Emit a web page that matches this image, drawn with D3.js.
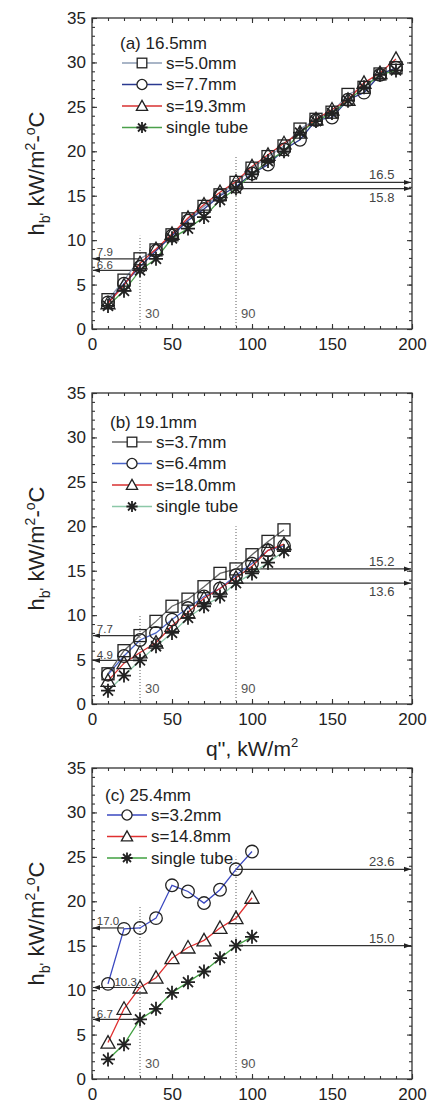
<!DOCTYPE html>
<html>
<head>
<meta charset="utf-8">
<script src="https://cdn.jsdelivr.net/npm/d3@7"></script>
<style>
  body { margin: 0; background: #fff; }
  svg { font-family: "Liberation Sans", Arial, sans-serif; }
  .axis path, .axis line { stroke: #333; stroke-width: 1.1; }
  .axis text { font-size: 17px; fill: #222; }
</style>
</head>
<body>
<svg width="427" height="1104"></svg>
<script>
// ---- data ----
// panel (a) tube 16.5mm
const qA = [10, 20, 30, 40, 50, 60, 70, 80, 90, 100, 110, 120, 130, 140, 150, 160, 170, 180, 190];
const hA_s50 = [3.3, 5.5, 7.9, 8.9, 10.6, 12.4, 13.8, 15.1, 16.5, 18.1, 19.4, 20.6, 22.5, 23.6, 24.4, 26.4, 27.2, 28.7, 29.4];
const hA_s77 = [3.0, 5.1, 7.0, 8.8, 10.5, 12.2, 13.5, 15.0, 16.0, 17.5, 18.5, 20.2, 21.3, 23.5, 23.8, 25.8, 26.6, 28.6, 29.4];
const hA_s193 = [2.9, 4.9, 7.4, 9.0, 10.7, 12.5, 14.0, 15.4, 16.6, 18.3, 19.6, 20.9, 22.1, 23.6, 24.7, 25.8, 27.7, 28.8, 30.4];
const hA_single = [2.6, 4.3, 6.6, 7.9, 10.2, 11.3, 12.6, 14.5, 15.8, 17.4, 18.9, 20.0, 22.1, 23.4, 24.3, 25.7, 27.2, 28.6, 29.1];

// panel (b) tube 19.1mm
const qB = [10, 20, 30, 40, 50, 60, 70, 80, 90, 100, 110, 120];
const hB_s37 = [3.4, 6.0, 7.7, 9.3, 11.0, 11.8, 13.2, 14.7, 15.2, 16.8, 18.3, 19.6];
const hB_s64 = [3.3, 5.4, 7.2, 8.0, 9.5, 10.8, 12.1, 13.0, 14.5, 15.8, 17.3, 17.8];
const hB_s180 = [2.6, 4.6, 5.8, 6.9, 8.8, 10.3, 11.9, 13.0, 14.2, 15.5, 17.3, 18.0];
const hB_single = [1.5, 3.2, 4.9, 6.5, 8.0, 9.7, 11.0, 12.1, 13.6, 14.7, 15.9, 17.2];

// panel (c) tube 25.4mm
const qC = [10, 20, 30, 40, 50, 60, 70, 80, 90, 100];
const hC_s32 = [10.7, 16.9, 17.0, 18.1, 21.8, 21.1, 19.8, 21.3, 23.6, 25.6];
const hC_s148 = [4.1, 7.9, 10.3, 11.4, 13.6, 14.8, 15.6, 17.0, 18.1, 20.4];
const hC_single = [2.2, 3.9, 6.7, 7.9, 9.7, 10.9, 12.1, 13.6, 15.0, 16.0];

// marked reference values (horizontal arrows) and q markers (dotted verticals)
const refLeftA = [7.9, 6.6], refRightA = [16.5, 15.8];
const refLeftB = [7.7, 4.9], refRightB = [15.2, 13.6];
const refLeftC = [17.0, 10.3, 6.7], refRightC = [23.6, 15.0];
const qMarks = [30, 90];
const qMarkTopA = [10.5, 19.5], qMarkTopB = [10, 20], qMarkTopC = [19.5, 25];

const xTicks = [0, 50, 100, 150, 200];
const xMinor = [0, 10, 20, 30, 40, 50, 60, 70, 80, 90, 100, 110, 120, 130, 140, 150, 160, 170, 180, 190, 200];
const yTicks = [0, 5, 10, 15, 20, 25, 30, 35];
const yMinor = [];
for (let v = 0; v <= 35; v++) yMinor.push(v);

// ---- layout ----
const svg = d3.select("svg");
const left = 92, right = 412, ph = 311;

const panels = [
  { top: 18, title: "(a) 16.5mm", q: qA, leftRefs: refLeftA, rightRefs: refRightA, marksTop: qMarkTopA,
    legX: 122, legY: 25, belowRight: [15.8], leftEnd: {},
    series: [
      { name: "s=5.0mm", h: hA_s50, sym: "square", color: "#8c9cb4" },
      { name: "s=7.7mm", h: hA_s77, sym: "circle", color: "#2a3990" },
      { name: "s=19.3mm", h: hA_s193, sym: "triangle", color: "#d93030" },
      { name: "single tube", h: hA_single, sym: "star", color: "#4aa04a" }
    ] },
  { top: 393, title: "(b) 19.1mm", q: qB, leftRefs: refLeftB, rightRefs: refRightB, marksTop: qMarkTopB,
    legX: 112, legY: 29, belowRight: [13.6], leftEnd: {},
    series: [
      { name: "s=3.7mm", h: hB_s37, sym: "square", color: "#666" },
      { name: "s=6.4mm", h: hB_s64, sym: "circle", color: "#4a64c8" },
      { name: "s=18.0mm", h: hB_s180, sym: "triangle", color: "#d93030" },
      { name: "single tube", h: hB_single, sym: "star", color: "#8cc8a8" }
    ] },
  { top: 768, title: "(c) 25.4mm", q: qC, leftRefs: refLeftC, rightRefs: refRightC, marksTop: qMarkTopC,
    legX: 107, legY: 27, belowRight: [], leftEnd: { "17": 20 }, shiftLabel: { "10.3": 11 },
    series: [
      { name: "s=3.2mm", h: hC_s32, sym: "circle", color: "#3a48c0" },
      { name: "s=14.8mm", h: hC_s148, sym: "triangle", color: "#e03030" },
      { name: "single tube", h: hC_single, sym: "star", color: "#40a040" }
    ] }
];

const defs = svg.append("defs");
["L", "R"].forEach(k => {
  defs.append("marker").attr("id", "arr" + k)
    .attr("viewBox", "0 0 10 10").attr("refX", 10).attr("refY", 5)
    .attr("markerWidth", 6).attr("markerHeight", 6).attr("orient", "auto")
    .append("path").attr("d", "M0,1.5L10,5L0,8.5Z").attr("fill", "#222");
});

function drawSymbol(sel, sym, k = 1) {
  if (sym === "square") {
    sel.append("rect").attr("x", -6 * k).attr("y", -6 * k).attr("width", 12 * k).attr("height", 12 * k);
  } else if (sym === "circle") {
    sel.append("circle").attr("r", 6.3 * k);
  } else if (sym === "triangle") {
    sel.append("path").attr("d", `M0,${-7 * k}L${7 * k},${5.5 * k}L${-7 * k},${5.5 * k}Z`);
  } else {
    const a = 7 * k, b = 5 * k;
    sel.append("path").attr("d", `M${-a},0H${a}M0,${-a}V${a}M${-b},${-b}L${b},${b}M${-b},${b}L${b},${-b}`)
      .attr("stroke-width", 1.8);
  }
}

const x = d3.scaleLinear().domain([0, 200]).range([left, right]);

panels.forEach(p => {
  const y = d3.scaleLinear().domain([0, 35]).range([p.top + ph, p.top]);
  const g = svg.append("g");

  // axes: major + minor ticks inward on all four sides
  g.append("g").attr("class", "axis").attr("transform", `translate(0,${p.top + ph})`)
    .call(d3.axisBottom(x).tickValues(xTicks).tickSizeInner(-5).tickSizeOuter(0).tickPadding(9));
  g.append("g").attr("class", "axis").attr("transform", `translate(0,${p.top + ph})`)
    .call(d3.axisBottom(x).tickValues(xMinor).tickSize(-3).tickFormat(""));
  g.append("g").attr("class", "axis").attr("transform", `translate(0,${p.top})`)
    .call(d3.axisTop(x).tickValues(xTicks).tickSizeInner(-5).tickSizeOuter(0).tickFormat(""));
  g.append("g").attr("class", "axis").attr("transform", `translate(0,${p.top})`)
    .call(d3.axisTop(x).tickValues(xMinor).tickSize(-3).tickFormat(""));
  g.append("g").attr("class", "axis").attr("transform", `translate(${left},0)`)
    .call(d3.axisLeft(y).tickValues(yTicks).tickSizeInner(-5).tickSizeOuter(0).tickPadding(6));
  g.append("g").attr("class", "axis").attr("transform", `translate(${left},0)`)
    .call(d3.axisLeft(y).tickValues(yMinor).tickSize(-3).tickFormat(""));
  g.append("g").attr("class", "axis").attr("transform", `translate(${right},0)`)
    .call(d3.axisRight(y).tickValues(yTicks).tickSizeInner(-5).tickSizeOuter(0).tickFormat(""));
  g.append("g").attr("class", "axis").attr("transform", `translate(${right},0)`)
    .call(d3.axisRight(y).tickValues(yMinor).tickSize(-3).tickFormat(""));
  g.selectAll(".axis .domain").remove();
  g.append("rect").attr("x", left).attr("y", p.top).attr("width", right - left).attr("height", ph)
    .attr("fill", "none").attr("stroke", "#333").attr("stroke-width", 1.3);

  // dotted q markers
  qMarks.forEach((q, i) => {
    g.append("line").attr("x1", x(q)).attr("x2", x(q)).attr("y1", y(0)).attr("y2", y(p.marksTop[i]))
      .attr("stroke", "#777").attr("stroke-width", 1.2).attr("stroke-dasharray", "1,2");
    g.append("text").attr("x", x(q) + 5).attr("y", y(1.8)).attr("dy", "0.35em")
      .attr("font-size", 13).attr("fill", "#555").text(q);
  });

  // reference arrows
  p.leftRefs.forEach((v, i) => {
    const end = p.leftEnd[String(v)] !== undefined ? p.leftEnd[String(v)] : 30;
    g.append("line").attr("x1", x(end)).attr("x2", x(0) + 1).attr("y1", y(v)).attr("y2", y(v))
      .attr("stroke", "#333").attr("stroke-width", 1.2).attr("marker-end", "url(#arrL)");
    const sh = (p.shiftLabel && p.shiftLabel[v.toFixed(1)]) || 0;
    g.append("text").attr("x", x(3 + sh)).attr("y", y(v) - (i === 0 ? 3 : 1.5))
      .attr("font-size", 11.5).attr("fill", "#444").text(v.toFixed(1));
  });
  p.rightRefs.forEach(v => {
    g.append("line").attr("x1", x(90)).attr("x2", x(200) - 1).attr("y1", y(v)).attr("y2", y(v))
      .attr("stroke", "#333").attr("stroke-width", 1.2).attr("marker-end", "url(#arrR)");
    const below = p.belowRight.includes(v);
    g.append("text").attr("x", x(189)).attr("y", below ? y(v) + 13 : y(v) - 3)
      .attr("text-anchor", "end").attr("font-size", 13).attr("fill", "#444").text(v.toFixed(1));
  });

  // series lines then markers
  const line = d3.line().x(d => x(d[0])).y(d => y(d[1]));
  p.series.forEach(s => {
    const pts = p.q.map((q, i) => [q, s.h[i]]);
    g.append("path").datum(pts).attr("d", line)
      .attr("fill", "none").attr("stroke", s.color).attr("stroke-width", 1.3);
  });
  p.series.forEach(s => {
    const pts = p.q.map((q, i) => [q, s.h[i]]);
    const m = g.append("g").selectAll("g").data(pts).enter().append("g")
      .attr("transform", d => `translate(${x(d[0])},${y(d[1])})`)
      .attr("fill", "none").attr("stroke", "#222").attr("stroke-width", 1.3);
    m.each(function () { drawSymbol(d3.select(this), s.sym); });
  });

  // legend
  const lg = g.append("g").attr("transform", `translate(${p.legX},${p.top + p.legY})`);
  lg.append("text").attr("x", -2).attr("dy", "0.35em").attr("font-size", 17).attr("fill", "#222").text(p.title);
  p.series.forEach((s, i) => {
    const row = lg.append("g").attr("transform", `translate(0,${20 + i * 21.5})`);
    row.append("line").attr("x1", 0).attr("x2", 40).attr("stroke", s.color).attr("stroke-width", 1.4);
    const mk = row.append("g").attr("transform", "translate(20,0)")
      .attr("fill", "#fff").attr("stroke", "#222").attr("stroke-width", 1.3);
    drawSymbol(mk, s.sym, 0.8);
    row.append("text").attr("x", 44).attr("dy", "0.35em").attr("font-size", 17).attr("fill", "#222").text(s.name);
  });

  // y-axis title
  const yt = g.append("text").attr("transform", `translate(44,${p.top + ph / 2}) rotate(-90)`)
    .attr("text-anchor", "middle").attr("font-size", 22).attr("fill", "#222");
  yt.append("tspan").text("h");
  yt.append("tspan").attr("dy", 6).attr("font-size", 14).text("b'");
  yt.append("tspan").attr("dy", -6).text("  kW/m");
  yt.append("tspan").attr("dy", -9).attr("font-size", 14).text("2");
  yt.append("tspan").attr("dy", 9).text("-");
  yt.append("tspan").attr("dy", -9).attr("font-size", 14).text("o");
  yt.append("tspan").attr("dy", 9).text("C");
});

// shared x-axis title between panels (b) and (c)
const xt = svg.append("text").attr("x", x(100)).attr("y", 756)
  .attr("text-anchor", "middle").attr("font-size", 21).attr("fill", "#222");
xt.append("tspan").text("q'',  kW/m");
xt.append("tspan").attr("dy", -9).attr("font-size", 13).text("2");
</script>
</body>
</html>
